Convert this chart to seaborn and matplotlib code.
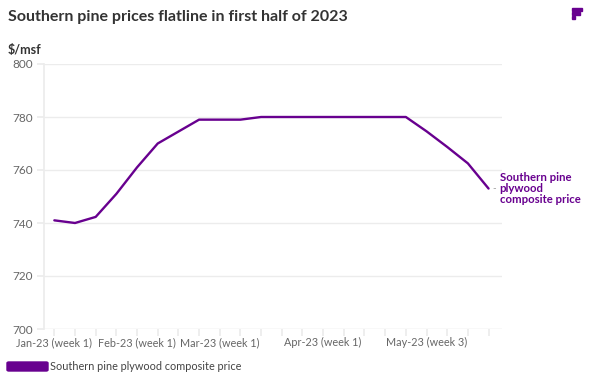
import matplotlib
matplotlib.use("Agg")
import matplotlib.pyplot as plt
import matplotlib.patches as mpatches
import pandas as pd
import seaborn as sns

# weekly composite price, $/msf
prices = [741, 740, 742.3, 751, 761, 770, 774.5, 779, 779, 779, 780, 780,
          780, 780, 780, 780, 780, 780, 774.6, 768.7, 762.5, 753]
week_labels = ["Jan-23 (week 1)", "", "", "", "Feb-23 (week 1)", "", "", "",
               "Mar-23 (week 1)", "", "", "", "", "Apr-23 (week 1)", "", "",
               "", "", "May-23 (week 3)", "", "", ""]
series_name = "Southern pine plywood composite price"
y_ticks = [700, 720, 740, 760, 780, 800]

PURPLE = "#68008f"
GRID = "#ececec"
TICK_TEXT = "#666666"

df = pd.DataFrame({"week": range(len(prices)), "price": prices})

sns.set_theme(style="white")
plt.rcParams["font.family"] = ["Lato", "DejaVu Sans"]

fig = plt.figure(figsize=(6.0, 3.78), dpi=100)
ax = fig.add_axes([44 / 600, 1 - 329 / 378, (502 - 44) / 600, (329 - 64) / 378])

sns.lineplot(data=df, x="week", y="price", ax=ax, color=PURPLE, linewidth=1.7)

ax.set_xlim(-0.5, len(prices) - 0.35)
ax.set_ylim(700, 800)
ax.set_yticks(y_ticks)
ax.set_xticks(df["week"])
ax.set_xticklabels(week_labels)
ax.grid(axis="y", color=GRID, linewidth=1)
ax.set_axisbelow(True)
ax.set_xlabel("")
ax.set_ylabel("")
for side in ["top", "right", "bottom"]:
    ax.spines[side].set_visible(False)
ax.spines["left"].set_color(GRID)
ax.tick_params(axis="y", length=5, color=GRID, labelsize=8.5, labelcolor=TICK_TEXT, pad=3, left=True)
ax.tick_params(axis="x", length=5, color=GRID, labelsize=7.8, labelcolor=TICK_TEXT, pad=1, bottom=True)
ax.axhline(700, color=GRID, linewidth=1, zorder=0)

# end-of-line label
last = len(prices) - 1
ax.annotate("Southern pine\nplywood\ncomposite price", xy=(last, prices[-1]),
            xytext=(8, 0), textcoords="offset points", color=PURPLE,
            fontsize=8.2, fontweight="bold", va="center", ha="left", linespacing=0.95,
            annotation_clip=False)
ax.annotate("-", xy=(last, prices[-1]), xytext=(3, 0), textcoords="offset points",
            color="#999999", fontsize=7, va="center", annotation_clip=False)

fig.text(8 / 600, 1 - 17 / 378, "Southern pine prices flatline in first half of 2023",
         fontsize=11.5, fontweight="bold", color="#333333", va="center")
fig.text(8 / 600, 1 - 50 / 378, "$/msf", fontsize=9, fontweight="bold",
         color="#333333", va="center")

# legend swatch at the bottom
fig.patches.append(mpatches.FancyBboxPatch((7 / 600, 1 - 371 / 378), 41 / 600, 9 / 378,
                                           boxstyle="round,pad=0,rounding_size=0.003",
                                           transform=fig.transFigure, color=PURPLE))
fig.text(50 / 600, 1 - 366 / 378, series_name, fontsize=7.8, color="#444444", va="center")

# small logo top right
for i, w in enumerate([10, 8, 3]):
    fig.patches.append(mpatches.Rectangle((572 / 600, 1 - (8 + i * 4 + 3) / 378), w / 600, 2.5 / 378,
                                          transform=fig.transFigure, color=PURPLE))

fig.savefig("out.png", dpi=100)
